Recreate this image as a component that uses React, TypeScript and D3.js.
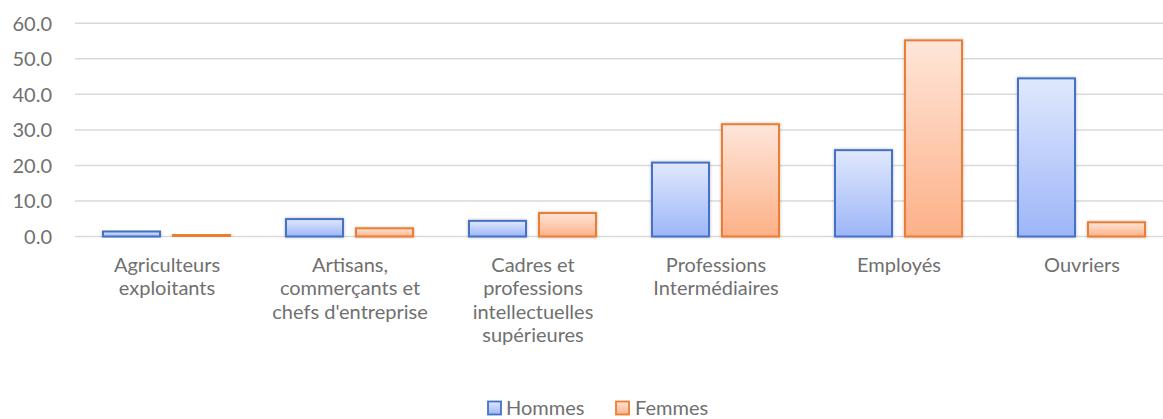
import React from "react";
import * as d3 from "d3";

const categories = [
  ["Agriculteurs", "exploitants"],
  ["Artisans,", "commerçants et", "chefs d'entreprise"],
  ["Cadres et", "professions", "intellectuelles", "supérieures"],
  ["Professions", "Intermédiaires"],
  ["Employés"],
  ["Ouvriers"],
];
const seriesNames = ["Hommes", "Femmes"];
const hommes = [1.4, 4.9, 4.4, 20.8, 24.3, 44.5];
const femmes = [0.5, 2.3, 6.6, 31.6, 55.2, 4.0];
const yTicks = [0, 10, 20, 30, 40, 50, 60];

const W = 1163;
const H = 419;
const FONT = "Lato, 'Open Sans', sans-serif";
const TEXT = "#707070";

const strokes = ["#4472C4", "#ED7D31"];

export default function App() {
  const keys = categories.map((c) => c.join(" "));
  const x0 = d3.scaleBand<string>().domain(keys).range([75.5, 1173.5]).padding(0);
  const x1 = d3
    .scaleBand<string>()
    .domain(seriesNames)
    .range([27.5, 154.5])
    .paddingInner(0.186)
    .paddingOuter(0);
  const y = d3.scaleLinear().domain([0, 60]).range([236.5, 23.3]);
  const values = [hommes, femmes];

  return (
    <svg
      width={W}
      height={H}
      style={{ position: "absolute", left: 0, top: 0, background: "#fff" }}
      fontFamily={FONT}
    >
      <defs>
        <linearGradient id="gH" x1="0" y1="0" x2="0" y2="1">
          <stop offset="0" stopColor="#e0e8fc" />
          <stop offset="1" stopColor="#9db6f8" />
        </linearGradient>
        <linearGradient id="gF" x1="0" y1="0" x2="0" y2="1">
          <stop offset="0" stopColor="#fee6d9" />
          <stop offset="1" stopColor="#fcb188" />
        </linearGradient>
        <filter id="sh" x="-20%" y="-20%" width="140%" height="140%">
          <feDropShadow dx="0" dy="0" stdDeviation="1.6" floodColor="#000" floodOpacity="0.28" />
        </filter>
      </defs>
      {yTicks.map((t) => (
        <g key={t}>
          <line x1={75} x2={W} y1={y(t)} y2={y(t)} stroke="#d9d9d9" strokeWidth={1.5} />
          <text
            x={52}
            y={y(t)}
            dy="0.36em"
            textAnchor="end"
            fontSize={20}
            fill={TEXT}
          >
            {t.toFixed(1)}
          </text>
        </g>
      ))}
      {keys.map((k, i) => (
        <g key={k} transform={`translate(${x0(k)},0)`}>
          {seriesNames.map((s, j) => {
            const v = values[j][i];
            return (
              <rect
                key={s}
                x={x1(s)}
                y={y(v)}
                width={x1.bandwidth()}
                height={y(0) - y(v)}
                fill={j === 0 ? "url(#gH)" : "url(#gF)"}
                stroke={strokes[j]}
                strokeWidth={2}
                filter="url(#sh)"
              />
            );
          })}
          <text
            x={x0.bandwidth() / 2}
            textAnchor="middle"
            fontSize={20}
            fill={TEXT}
          >
            {categories[i].map((line, li) => (
              <tspan key={li} x={x0.bandwidth() / 2} y={272 + li * 23.3}>
                {line}
              </tspan>
            ))}
          </text>
        </g>
      ))}
      <g>
        <rect x={488} y={401.5} width={13} height={13} fill="url(#gH)" stroke={strokes[0]} strokeWidth={1.8} />
        <text x={506} y={414.5} fontSize={20} fill={TEXT}>
          {seriesNames[0]}
        </text>
        <rect x={616} y={401.5} width={13} height={13} fill="url(#gF)" stroke={strokes[1]} strokeWidth={1.8} />
        <text x={635} y={414.5} fontSize={20} fill={TEXT}>
          {seriesNames[1]}
        </text>
      </g>
    </svg>
  );
}
